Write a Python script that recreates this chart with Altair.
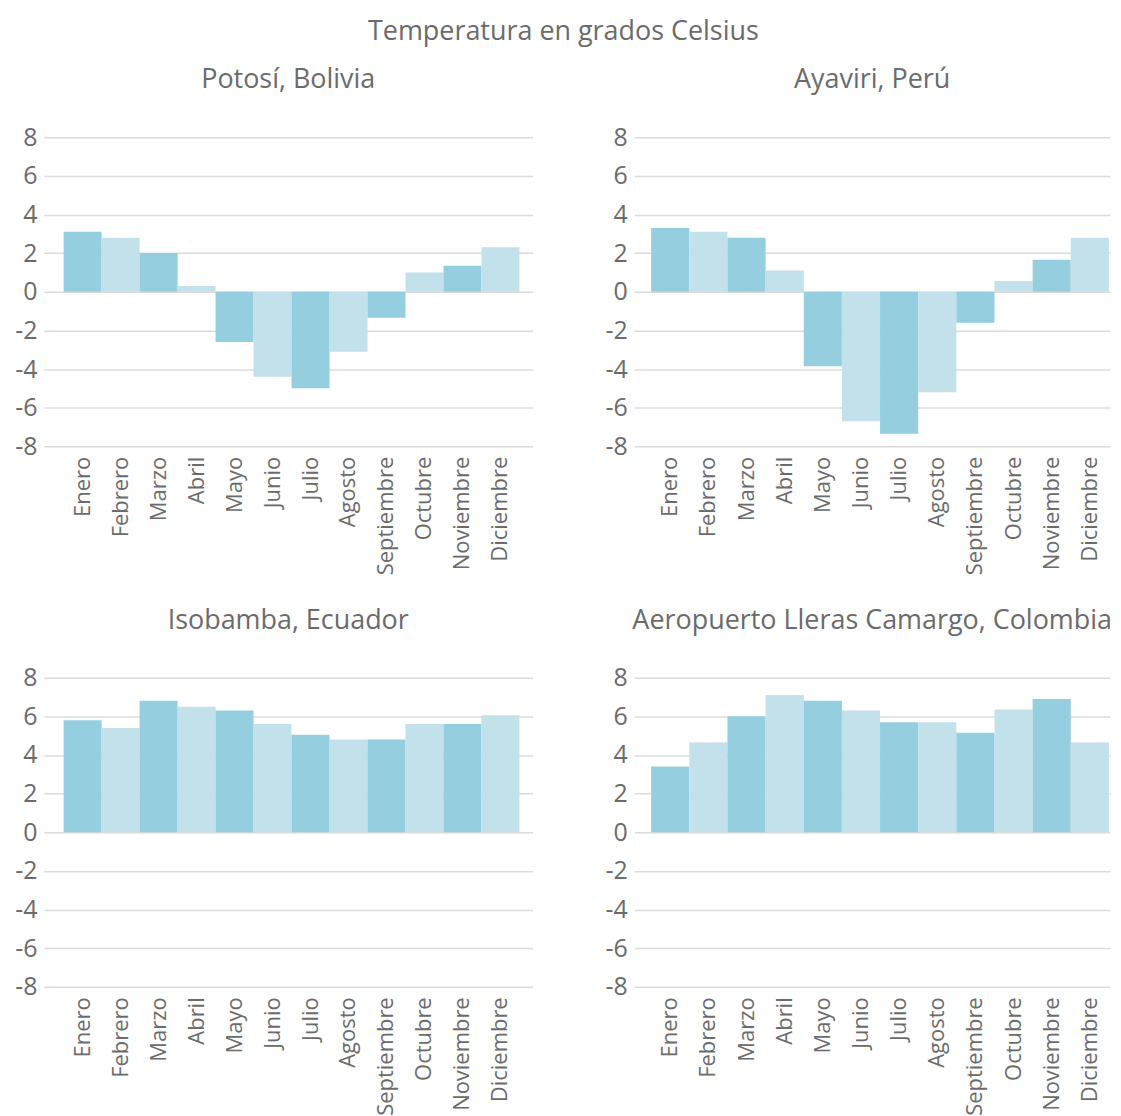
import altair as alt
import pandas as pd

months = ["Enero", "Febrero", "Marzo", "Abril", "Mayo", "Junio", "Julio",
          "Agosto", "Septiembre", "Octubre", "Noviembre", "Diciembre"]

potosi = [3.1, 2.8, 2.0, 0.3, -2.6, -4.4, -5.0, -3.1, -1.35, 1.0, 1.35, 2.3]
ayaviri = [3.3, 3.1, 2.8, 1.1, -3.85, -6.7, -7.35, -5.2, -1.6, 0.55, 1.65, 2.8]
isobamba = [5.8, 5.4, 6.8, 6.5, 6.3, 5.6, 5.05, 4.8, 4.8, 5.6, 5.6, 6.05]
aeropuerto = [3.4, 4.65, 6.0, 7.1, 6.8, 6.3, 5.7, 5.7, 5.15, 6.35, 6.9, 4.65]

titles = ["Potosí, Bolivia", "Ayaviri, Perú", "Isobamba, Ecuador",
          "Aeropuerto Lleras Camargo, Colombia"]
series = [potosi, ayaviri, isobamba, aeropuerto]

FONT = "Open Sans"
GRAY = "#6b6b6b"


def panel(title, values, width, pad_outer, align):
    df = pd.DataFrame({
        "mes": months,
        "valor": values,
        "tono": ["oscuro" if i % 2 == 0 else "claro" for i in range(len(months))],
    })
    return alt.Chart(df).mark_bar().encode(
        x=alt.X("mes:N", sort=months, title=None,
                scale=alt.Scale(paddingInner=0.0, paddingOuter=pad_outer, align=align),
                axis=alt.Axis(labelAngle=-90, labelFontSize=22, labelColor=GRAY,
                              labelFont=FONT, domain=False, ticks=False,
                              labelPadding=10, grid=False)),
        y=alt.Y("valor:Q", title=None,
                scale=alt.Scale(domain=[-8, 8], nice=False),
                axis=alt.Axis(values=[-8, -6, -4, -2, 0, 2, 4, 6, 8],
                              labelExpr="datum.value + ''",
                              labelFontSize=25, labelColor=GRAY, labelFont=FONT,
                              domain=False, ticks=False, labelPadding=7,
                              grid=True, gridColor="#dcdcdc", gridWidth=1.5)),
        color=alt.Color("tono:N", legend=None,
                        scale=alt.Scale(domain=["oscuro", "claro"],
                                        range=["#95cedf", "#c3e1ea"])),
    ).properties(
        width=width, height=310,
        title=alt.TitleParams(title, fontSize=27, font=FONT, color=GRAY,
                              fontWeight="normal", offset=31),
    )


left_args = dict(width=490, pad_outer=0.433, align=0.6)
right_args = dict(width=477, pad_outer=0.235, align=0.94)

c0 = panel(titles[0], series[0], **left_args)
c1 = panel(titles[1], series[1], **right_args)
c2 = panel(titles[2], series[2], **left_args)
c3 = panel(titles[3], series[3], **right_args)

chart = alt.vconcat(
    alt.hconcat(c0, c1, spacing=72),
    alt.hconcat(c2, c3, spacing=72),
    spacing=32,
).properties(
    title=alt.TitleParams("Temperatura en grados Celsius", fontSize=27,
                          font=FONT, color=GRAY, fontWeight="normal",
                          anchor="middle", offset=20),
    padding={"left": 6, "top": 9, "right": 0, "bottom": 0},
    background="white",
).configure_axis(
    zindex=1,
).configure_view(
    stroke=None,
)

chart.save("out.html", embed_options={"renderer": "svg", "actions": False})
